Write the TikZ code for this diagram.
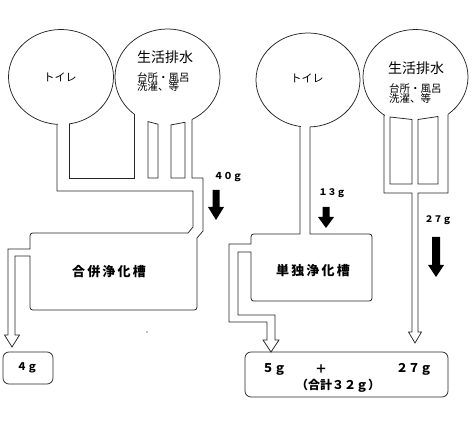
\documentclass[tikz,border=0pt]{standalone}
\usepackage{fontspec}
\newfontfamily\jp{Noto Sans CJK JP}
\begin{document}
\begin{tikzpicture}[x=1pt,y=-1pt,
  wall/.style={draw=black!85, line width=0.75pt, line join=miter},
  patch/.style={fill=white, draw=none},
  blk/.style={fill=black, draw=none},
  lbl/.style={inner sep=0pt, font=\jp\fontsize{#1}{#1}\selectfont},
  lbl/.default=10,
  num/.style={inner sep=0pt, font=\jp\bfseries\fontsize{#1}{#1}\selectfont}]
\useasboundingbox (0,0) rectangle (474,422);
% ---------------- left: combined system ----------------
\draw[wall] (61,77) ellipse [x radius=52.5, y radius=47.5];
\draw[wall] (167.5,77) ellipse [x radius=52.5, y radius=48];
\fill[patch] (57.5,112) rectangle (68.5,132);
\fill[patch] (134.5,100) rectangle (191.5,132);
\node[lbl=11] (toiletL) at (60,77) {トイレ};
\node[lbl=14] (haisuiL) at (165,57) {生活排水};
\node[lbl=10.5, anchor=west, align=left] (kitchenL) at (137,82)
  {台所・風呂\\[-1pt]洗濯、等};
% toilet pipe inner wall and basin
\draw[wall] (69,124) -- (69,178) -- (134,178) -- (134,114);
% islands
\draw[wall] (148,121.6) -- (158,124.2) -- (158,178) -- (148,178) -- cycle;
\draw[wall] (171,124.9) -- (185,122.3) -- (185,178) -- (171,178) -- cycle;
% main pipe, tank, outlet
\draw[wall] (57,124.4) -- (57,191) -- (193,191) -- (193,227) -- (188,233)
  -- (36,233) .. controls (30,233) .. (30,239) -- (30,249) -- (8,249)
  -- (8,335) -- (4.5,335) -- (12,347) -- (19.5,335) -- (15,335)
  -- (15,256) -- (30,256) -- (30,304) .. controls (30,310) .. (36,310)
  -- (191,310) .. controls (197,310) .. (197,304) -- (197,238)
  -- (203,231) -- (203,178) -- (192,178) -- (192,119.5);
\node[num=13] (gappei) at (109,272) {合\,併\,浄\,化\,槽};
\node[num=9.5] (g40) at (228,177) {４０ｇ};
\fill[blk] (212.5,190) -- (219.5,190) -- (219.5,207) -- (224,207) -- (216,220)
  -- (208,207) -- (212.5,207) -- cycle;
\draw[wall, rounded corners=6] (3,352) rectangle (53,384);
\node[num=10.5] (g4) at (27,368) {４ｇ};
\fill (147,332) circle (0.6);
% ---------------- right: single system ----------------
\draw[wall] (308,80) ellipse [x radius=52, y radius=47];
\draw[wall] (415.5,77) ellipse [x radius=52.5, y radius=47.5];
\fill[patch] (300.5,112) rectangle (309.5,132);
\fill[patch] (384.5,106) rectangle (447.5,132);
\node[lbl=11] (toiletR) at (307,78) {トイレ};
\node[lbl=14] (haisuiR) at (416,68) {生活排水};
\node[lbl=10.5, anchor=west, align=left] (kitchenR) at (389,93.5)
  {台所・風呂\\[-1pt]洗濯、等};
% toilet pipe, tank, outlet
\draw[wall] (300,126.4) -- (300,234) -- (257,234) .. controls (251,234) .. (251,240)
  -- (251,244) -- (229,244) -- (229,322) -- (267,322) -- (267,340)
  -- (263,340) -- (271,352) -- (279,340) -- (275,340) -- (275,315)
  -- (238,315) -- (238,252) -- (251,252) -- (251,295) .. controls (251,301) .. (257,301)
  -- (366,301) .. controls (372,301) .. (372,295) -- (372,240)
  .. controls (372,234) .. (366,234) -- (310,234) -- (310,127);
\node[num=13] (tandoku) at (313,271) {単\,独\,浄\,化\,槽};
% grey water pipe
\draw[wall] (384,115) -- (384,193) -- (412,193) -- (412,332) -- (408.5,332)
  -- (415,343) -- (421.5,332) -- (418,332) -- (418,193) -- (448,193) -- (448,114.3);
\draw[wall] (390,117) -- (412,119.5) -- (412,184) -- (390,184) -- cycle;
\draw[wall] (418,119.5) -- (438,116.5) -- (438,184) -- (418,184) -- cycle;
\node[num=9] (g13) at (332,193) {１３ｇ};
\fill[blk] (322.5,207) -- (329.5,207) -- (329.5,217) -- (334,217) -- (326,228)
  -- (318,217) -- (322.5,217) -- cycle;
\node[num=9] (g27) at (438,220) {２７ｇ};
\fill[blk] (432,237) -- (440,237) -- (440,265) -- (444,265) -- (436,277)
  -- (428,265) -- (432,265) -- cycle;
% result box
\draw[wall, rounded corners=6] (245,352) rectangle (448,397);
\node[num=12] (g5) at (274,369) {５ｇ};
\node[num=12] (plus) at (321,369) {＋};
\node[num=12] (g27b) at (414,369) {２７ｇ};
\node[num=12] (total) at (338,386) {（合計３２ｇ）};
\end{tikzpicture}
\end{document}
